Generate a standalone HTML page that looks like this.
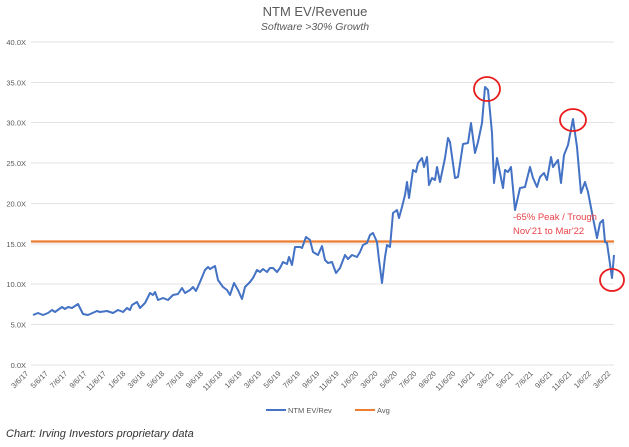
<!DOCTYPE html>
<html><head><meta charset="utf-8"><style>body{margin:0;background:#fff}svg{display:block}</style></head>
<body>
<svg width="629" height="447" viewBox="0 0 629 447" xmlns="http://www.w3.org/2000/svg" font-family="Liberation Sans, sans-serif">
<rect width="629" height="447" fill="#fff"/>
<text x="315" y="16" text-anchor="middle" font-size="13" fill="#595959">NTM EV/Revenue</text>
<text x="315" y="30" text-anchor="middle" font-size="10.5" font-style="italic" fill="#595959">Software &gt;30% Growth</text>
<g stroke="#e3e3e3" stroke-width="1">
<line x1="31" x2="614" y1="42" y2="42"/><line x1="31" x2="614" y1="82.5" y2="82.5"/><line x1="31" x2="614" y1="122.5" y2="122.5"/><line x1="31" x2="614" y1="163" y2="163"/><line x1="31" x2="614" y1="203.5" y2="203.5"/><line x1="31" x2="614" y1="244" y2="244"/><line x1="31" x2="614" y1="284" y2="284"/><line x1="31" x2="614" y1="324.5" y2="324.5"/><line x1="31" x2="614" y1="365" y2="365"/>
</g>
<g font-size="7.5" fill="#595959" text-anchor="end">
<text x="26" y="45">40.0X</text><text x="26" y="85.5">35.0X</text><text x="26" y="125.5">30.0X</text><text x="26" y="166">25.0X</text><text x="26" y="206.5">20.0X</text><text x="26" y="247">15.0X</text><text x="26" y="287">10.0X</text><text x="26" y="327.5">5.0X</text><text x="26" y="368">0.0X</text>
</g>
<g font-size="7.5" fill="#595959" text-anchor="end">
<text transform="translate(29,374) rotate(-45)">3/6/17</text><text transform="translate(48.4,374) rotate(-45)">5/6/17</text><text transform="translate(67.8,374) rotate(-45)">7/6/17</text><text transform="translate(87.2,374) rotate(-45)">9/6/17</text><text transform="translate(106.6,374) rotate(-45)">11/6/17</text><text transform="translate(126,374) rotate(-45)">1/6/18</text><text transform="translate(145.4,374) rotate(-45)">3/6/18</text><text transform="translate(164.8,374) rotate(-45)">5/6/18</text><text transform="translate(184.2,374) rotate(-45)">7/6/18</text><text transform="translate(203.6,374) rotate(-45)">9/6/18</text><text transform="translate(223,374) rotate(-45)">11/6/18</text><text transform="translate(242.4,374) rotate(-45)">1/6/19</text><text transform="translate(261.8,374) rotate(-45)">3/6/19</text><text transform="translate(281.2,374) rotate(-45)">5/6/19</text><text transform="translate(300.6,374) rotate(-45)">7/6/19</text><text transform="translate(320,374) rotate(-45)">9/6/19</text><text transform="translate(339.4,374) rotate(-45)">11/6/19</text><text transform="translate(358.8,374) rotate(-45)">1/6/20</text><text transform="translate(378.2,374) rotate(-45)">3/6/20</text><text transform="translate(397.6,374) rotate(-45)">5/6/20</text><text transform="translate(417,374) rotate(-45)">7/6/20</text><text transform="translate(436.4,374) rotate(-45)">9/6/20</text><text transform="translate(455.8,374) rotate(-45)">11/6/20</text><text transform="translate(475.2,374) rotate(-45)">1/6/21</text><text transform="translate(494.6,374) rotate(-45)">3/6/21</text><text transform="translate(514,374) rotate(-45)">5/6/21</text><text transform="translate(533.4,374) rotate(-45)">7/6/21</text><text transform="translate(552.8,374) rotate(-45)">9/6/21</text><text transform="translate(572.2,374) rotate(-45)">11/6/21</text><text transform="translate(591.6,374) rotate(-45)">1/6/22</text><text transform="translate(611,374) rotate(-45)">3/6/22</text>
</g>
<line x1="31" x2="614" y1="241.5" y2="241.5" stroke="#ed7d31" stroke-width="2.2"/>
<polyline fill="none" stroke="#4472c4" stroke-width="2" stroke-linejoin="round" points="33,315 38,313 43,315 48,313 52,310 55,312 62,307 65,309 68,307 72,308 78,304 83,314 88,315 97,311 100,312 107,311 113,313 118,310 123,312 127,308 130,310 132,305 137,302 140,308 145,303 150,293 153,295 155,292 158,300 163,298 168,300 173,295 178,294 182,288 185,293 190,290 193,287 196,291 200,282 205,270 208,267 210,269 215,266 218,280 223,287 227,290 230,295 234,283 238,290 242,299 245,287 250,282 253,278 257,270 260,272 263,269 267,272 270,268 273,268 277,272 280,268 283,262 287,264 289,257 292,265 295,247 300,247 302,248 306,237 310,240 313,252 318,255 322,246 325,260 328,263 332,262 336,273 340,268 345,255 348,259 352,255 357,257 360,252 363,245 367,243 370,235 373,233 377,242 379,260 382,283 385,257 387,245 390,247 393,213 397,210 399,218 402,207 405,195 407,182 409,198 413,170 416,172 418,163 422,158 424,167 427,157 429,185 432,178 435,180 437,167 440,182 445,158 448,138 450,142 455,178 458,177 463,144 468,143 471,123 475,153 478,142 482,123 485,87 488,90 492,133 494,183 497,158 500,173 503,188 505,170 508,172 511,167 515,210 520,188 525,187 530,167 533,178 537,187 540,177 544,173 547,180 551,157 553,167 558,160 561,183 564,155 568,145 573,119 577,147 581,193 585,182 588,192 593,218 597,238 600,223 603,220 605,242 607,243 612,278 614,255"/>
<g fill="none" stroke="#e81c1c" stroke-width="1.8">
<ellipse cx="487" cy="89" rx="13" ry="12"/><ellipse cx="573" cy="120" rx="13" ry="11"/><ellipse cx="612" cy="280" rx="12" ry="11"/>
</g>
<text x="513" y="220" font-size="9.5" fill="#e8434a">-65% Peak / Trough</text>
<text x="513" y="234" font-size="9.5" fill="#e8434a">Nov'21 to Mar'22</text>
<line x1="266" x2="286" y1="410" y2="410" stroke="#4472c4" stroke-width="2"/>
<text x="288" y="413" font-size="7.5" fill="#595959">NTM EV/Rev</text>
<line x1="355" x2="375" y1="410" y2="410" stroke="#ed7d31" stroke-width="2"/>
<text x="377" y="413" font-size="7.5" fill="#595959">Avg</text>
<text x="6" y="437" font-size="11" font-style="italic" fill="#333">Chart: Irving Investors proprietary data</text>
</svg>
</body></html>
